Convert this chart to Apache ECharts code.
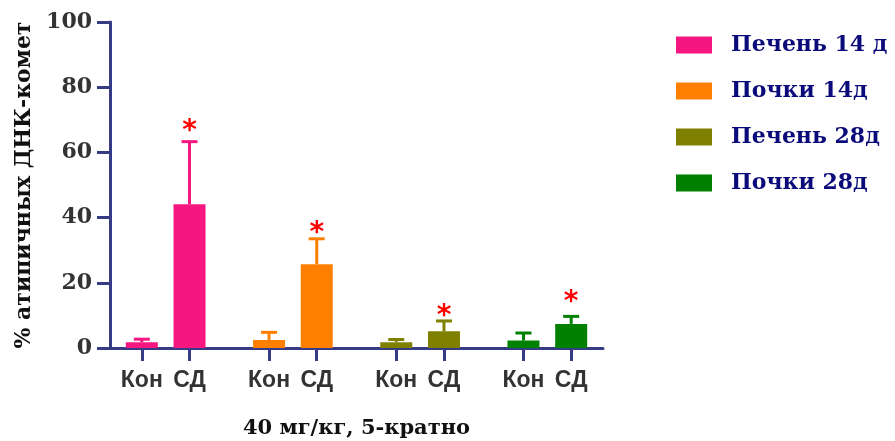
<!DOCTYPE html>
<html>
<head>
<meta charset="utf-8">
<script src="https://cdn.jsdelivr.net/npm/echarts@6/dist/echarts.min.js"></script>
<style>
  html, body { margin: 0; padding: 0; background: #fff; }
  #chart { width: 895px; height: 441px; }
</style>
</head>
<body>
<div id="chart"></div>
<script>
// Groups (one bar series each), bar labels within a group
const groupNames = ['Печень 14 д', 'Почки 14д', 'Печень 28д', 'Почки 28д'];
const barLabels = ['Кон', 'СД'];

// Means and standard deviations, % atypical DNA comets
const controlMeans = [1.8, 2.45, 1.8, 2.3];
const controlSd = [0.9, 2.35, 0.8, 2.3];
const treatedMeans = [44.1, 25.7, 5.1, 7.4];
const treatedSd = [19.2, 7.8, 3.2, 2.3];

// Height (in % units) where the significance asterisk sits for each СД bar
const significanceLevels = [68.5, 37.3, 11.7, 16.1];

const yTicks = [0, 20, 40, 60, 80, 100];

const groupColors = ['#F5167F', '#FF8000', '#808000', '#008000'];
const axisColor = '#353B85';

// Slot layout along the x axis: groups 8 slots apart, bars 3 slots apart
function slot(g, i) { return 2 + 8 * g + 3 * i; }

const tickValues = [];
const tickText = {};
groupNames.forEach((_, g) => {
  barLabels.forEach((lab, i) => {
    tickValues.push(slot(g, i));
    tickText[slot(g, i)] = lab;
  });
});

const barSeries = groupNames.map((name, g) => ({
  name: name,
  type: 'bar',
  barWidth: 32,
  barGap: '-100%',
  itemStyle: { color: groupColors[g] },
  z: 2,
  data: [
    [slot(g, 0), controlMeans[g]],
    [slot(g, 1), treatedMeans[g]]
  ]
}));

// Error bars (upper half) plus significance asterisks
const errData = [];
groupNames.forEach((_, g) => {
  errData.push([slot(g, 0), controlMeans[g], controlSd[g], g, -1]);
  errData.push([slot(g, 1), treatedMeans[g], treatedSd[g], g, significanceLevels[g]]);
});

const errSeries = {
  name: 'errors',
  type: 'custom',
  z: 3,
  data: errData,
  renderItem: function (params, api) {
    const x = api.value(0), m = api.value(1), sd = api.value(2);
    const g = api.value(3), sig = api.value(4);
    const color = groupColors[g];
    const p0 = api.coord([x, m]);
    const p1 = api.coord([x, m + sd]);
    const children = [
      { type: 'line', shape: { x1: p0[0], y1: p0[1], x2: p1[0], y2: p1[1] },
        style: { stroke: color, lineWidth: 3 } },
      { type: 'line', shape: { x1: p1[0] - 8, y1: p1[1], x2: p1[0] + 8, y2: p1[1] },
        style: { stroke: color, lineWidth: 3 } }
    ];
    if (sig >= 0) {
      const ps = api.coord([x, sig]);
      children.push({
        type: 'text',
        style: {
          x: ps[0], y: ps[1] + 7, text: '*',
          fill: '#FF0000', font: 'bold 28px "DejaVu Sans"',
          align: 'center', verticalAlign: 'middle'
        }
      });
    }
    return { type: 'group', children: children };
  }
};

const chart = echarts.init(document.getElementById('chart'), null, { renderer: 'canvas' });
chart.setOption({
  animation: false,
  backgroundColor: '#ffffff',
  grid: { left: 110, right: 292, top: 22, bottom: 93, containLabel: false, outerBoundsMode: 'none' },
  legend: {
    orient: 'vertical',
    left: 676,
    top: 33,
    padding: 0,
    itemWidth: 36,
    itemHeight: 17,
    itemGap: 22,
    icon: 'rect',
    data: groupNames,
    textStyle: {
      fontFamily: 'DejaVu Serif',
      fontWeight: 'bold',
      fontSize: 22,
      lineHeight: 24,
      color: '#0A0A7A',
      padding: [0, 0, 0, 14]
    }
  },
  xAxis: {
    type: 'value',
    min: 0,
    max: 31,
    splitLine: { show: false },
    axisLine: { show: true, onZero: false, lineStyle: { color: axisColor, width: 3 } },
    axisTick: { show: true, customValues: tickValues, length: 13,
      lineStyle: { color: axisColor, width: 3 } },
    axisLabel: {
      customValues: tickValues,
      formatter: v => tickText[v] || '',
      margin: 21,
      fontFamily: 'Liberation Sans',
      fontWeight: 'bold',
      fontSize: 23,
      color: '#333333'
    },
    name: '40 мг/кг, 5-кратно',
    nameLocation: 'middle',
    nameGap: 70,
    nameTextStyle: {
      fontFamily: 'DejaVu Serif',
      fontWeight: 'bold',
      fontSize: 21,
      color: '#111111'
    }
  },
  yAxis: {
    type: 'value',
    min: 0,
    max: 100,
    interval: 20,
    splitLine: { show: false },
    axisLine: { show: true, lineStyle: { color: axisColor, width: 3 } },
    axisTick: { show: true, length: 13, lineStyle: { color: axisColor, width: 3 } },
    axisLabel: {
      margin: 18,
      fontFamily: 'DejaVu Serif',
      fontWeight: 'bold',
      fontSize: 22,
      color: '#333333',
      formatter: v => (yTicks.indexOf(v) >= 0 ? String(v) : '')
    },
    name: '% атипичных ДНК-комет',
    nameLocation: 'middle',
    nameRotate: 90,
    nameGap: 67,
    nameTextStyle: {
      fontFamily: 'DejaVu Serif',
      fontWeight: 'bold',
      fontSize: 22,
      color: '#111111'
    }
  },
  series: barSeries.concat([errSeries])
});
</script>
</body>
</html>
